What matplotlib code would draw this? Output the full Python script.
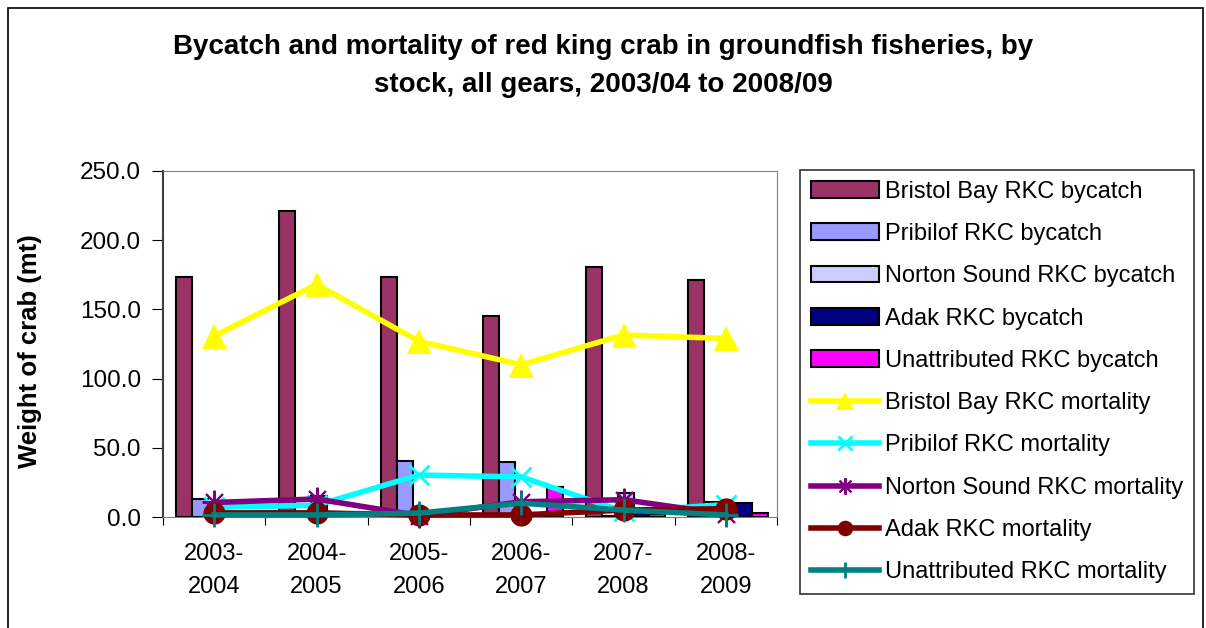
import matplotlib.pyplot as plt
import numpy as np
from matplotlib.patches import Rectangle

plt.rcParams['font.family'] = ['Liberation Sans', 'DejaVu Sans']

# Seasons
seasons = ['2003-\n2004', '2004-\n2005', '2005-\n2006', '2006-\n2007', '2007-\n2008', '2008-\n2009']

# Bycatch (mt)
bristol_bycatch = [173.4, 221.0, 173.4, 145.5, 180.5, 171.5]
pribilof_bycatch = [13.0, 1.0, 40.5, 40.0, 1.0, 11.0]
norton_bycatch = [3.0, 15.0, 0.5, 1.0, 17.0, 0.5]
adak_bycatch = [0.5, 1.0, 0.5, 2.0, 3.0, 10.0]
unattrib_bycatch = [1.0, 1.0, 1.0, 21.5, 2.0, 3.0]

# Mortality (mt)
bristol_mort = [130.8, 168.0, 127.0, 110.0, 131.5, 129.0]
pribilof_mort = [7.0, 8.5, 30.3, 29.0, 4.0, 9.0]
norton_mort = [10.5, 13.0, 1.0, 11.0, 12.5, 2.0]
adak_mort = [3.0, 3.0, 1.5, 1.5, 5.0, 6.0]
unattrib_mort = [1.5, 1.5, 2.8, 10.0, 5.0, 1.5]

bar_series = [
    ('Bristol Bay RKC bycatch', bristol_bycatch, '#993366'),
    ('Pribilof RKC bycatch', pribilof_bycatch, '#9999FF'),
    ('Norton Sound RKC bycatch', norton_bycatch, '#CCCCFF'),
    ('Adak RKC bycatch', adak_bycatch, '#000080'),
    ('Unattributed RKC bycatch', unattrib_bycatch, '#FF00FF'),
]
line_series = [
    ('Bristol Bay RKC mortality', bristol_mort, '#FFFF00', '^', 18, 0),
    ('Pribilof RKC mortality', pribilof_mort, '#00FFFF', 'x', 15, 2),
    ('Norton Sound RKC mortality', norton_mort, '#800080', (8, 2, 0), 17, 1.5),
    ('Adak RKC mortality', adak_mort, '#800000', 'o', 16, 0),
    ('Unattributed RKC mortality', unattrib_mort, '#008080', '+', 17, 2),
]

fig = plt.figure(figsize=(12.06, 6.28), dpi=100)
ax = fig.add_axes([163 / 1206, 1 - 517 / 628, 614 / 1206, 346 / 628])

x = np.arange(len(seasons))
w = 0.156
handles = []
for i, (name, vals, col) in enumerate(bar_series):
    b = ax.bar(x + (i - 2) * w + 0.02, vals, width=w, color=col, edgecolor='black',
               linewidth=1.5, label=name, zorder=2)
    handles.append(b)
for name, vals, col, mk, ms, mew in line_series:
    l, = ax.plot(x, vals, color=col, linewidth=4, marker=mk, markersize=ms,
                 markeredgewidth=mew, markeredgecolor=col, markerfacecolor=col,
                 label=name, zorder=3, clip_on=False)
    handles.append(l)

ax.set_xlim(-0.5, 5.5)
ax.set_ylim(0, 250)
ax.set_yticks(np.arange(0, 251, 50))
ax.set_yticklabels(['%.1f' % v for v in np.arange(0, 251, 50)], fontsize=17.5)
ax.set_xticks(np.arange(-0.5, 5.6, 1))
ax.set_xticklabels([])
ax.set_xticks(x, minor=True)
ax.set_xticklabels(seasons, minor=True, fontsize=17, linespacing=1.62)
ax.tick_params(axis='x', which='major', direction='out', length=6)
ax.tick_params(axis='x', which='minor', length=0, pad=19)
ax.tick_params(axis='y', direction='out', length=8, pad=8)
for s in ['top', 'right']:
    ax.spines[s].set_color('#808080')
ax.spines['left'].set_color('#404040')
ax.spines['left'].set_linewidth(1.5)
ax.spines['bottom'].set_color('#808080')

fig.text(0.5, 1 - 66 / 628, 'Bycatch and mortality of red king crab in groundfish fisheries, by\nstock, all gears, 2003/04 to 2008/09',
         ha='center', va='center', fontsize=20, fontweight='bold', linespacing=1.65)
fig.text(30 / 1206, 1 - 351 / 628, 'Weight of crab (mt)', rotation=90, ha='center', va='center',
         fontsize=18.5, fontweight='bold')

leg = fig.legend(handles=handles, loc='upper left', bbox_to_anchor=(800 / 1206, 1 - 170 / 628),
                 fontsize=17, frameon=True, fancybox=False, borderaxespad=0, labelspacing=0.86,
                 handlelength=2.9, handletextpad=0.25, borderpad=0.45, markerscale=0.7)
leg.get_frame().set_edgecolor('black')
leg.get_frame().set_linewidth(1.2)

fig.patches.append(Rectangle((8 / 1206, -0.1), 1195 / 1206, 1.1 - 8 / 628, transform=fig.transFigure,
                             fill=False, edgecolor='black', linewidth=1.2))

fig.savefig('out.png', dpi=100)
